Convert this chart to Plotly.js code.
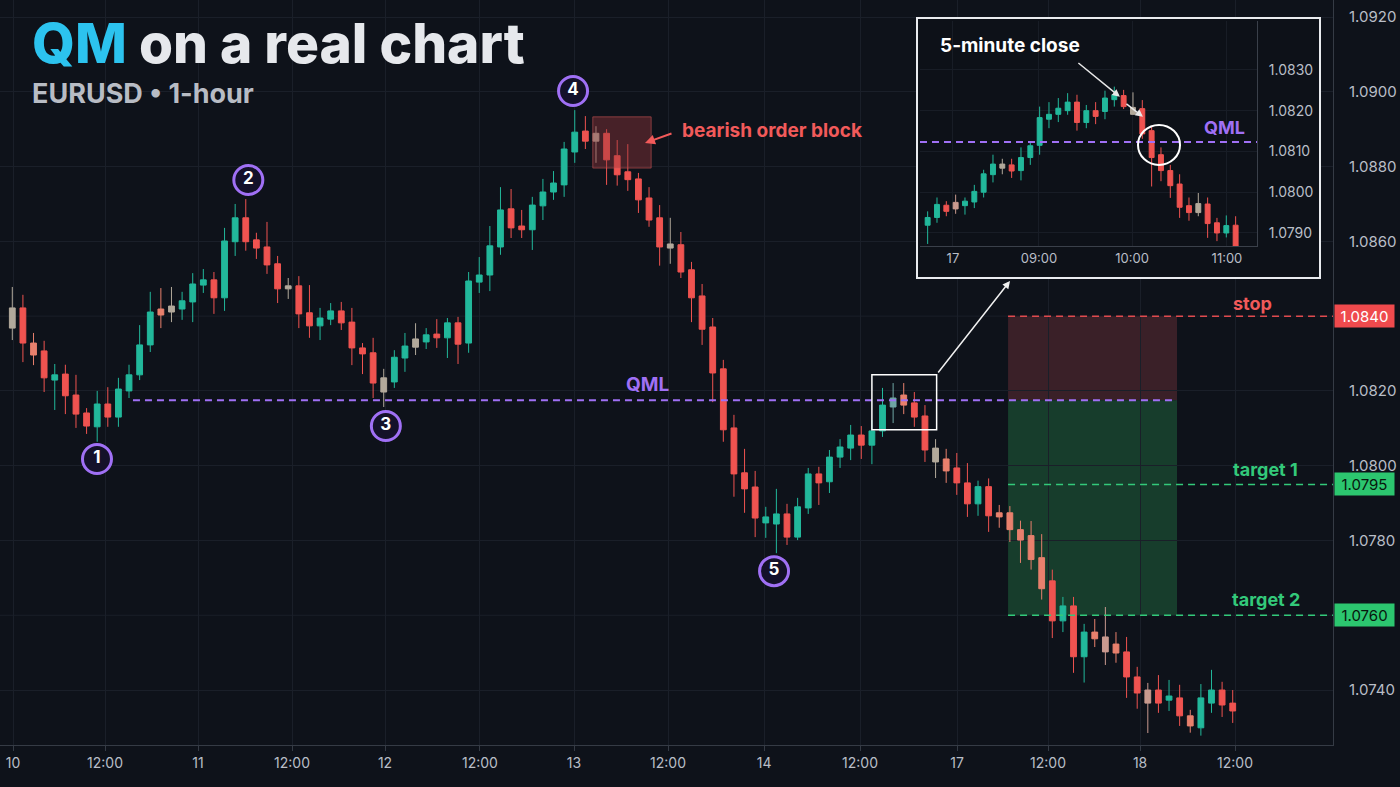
<!DOCTYPE html>
<html><head><meta charset="utf-8">
<script src="https://cdn.plot.ly/plotly-3.0.1.min.js"></script>
<style>
html,body{margin:0;padding:0;background:#0e121a;width:1400px;height:787px;overflow:hidden;}
#main{position:absolute;left:0;top:0;width:1400px;height:787px;}
#inset{position:absolute;left:916px;top:17px;width:401px;height:258px;border:2px solid #e9ebef;background:#0d1118;}
</style></head><body>
<div id="main"></div><div id="inset"></div>
<script>
// ---------------- MAIN CHART DATA (EURUSD 1-hour) ----------------
const mainOpen = [1.08422,1.08422,1.08328,1.08307,1.08229,1.08245,1.08189,1.08141,1.08104,1.08165,
1.08130,1.08200,1.08243,1.08323,1.08419,1.08427,1.08419,1.08438,1.08483,1.08497,
1.08449,1.08599,1.08663,1.08604,1.08585,1.08540,1.08481,1.08481,1.08409,1.08374,
1.08392,1.08414,1.08384,1.08315,1.08302,1.08235,1.08224,1.08288,1.08339,1.08331,
1.08352,1.08342,1.08382,1.08328,1.08491,1.08510,1.08585,1.08687,1.08641,1.08631,
1.08695,1.08732,1.08751,1.08839,1.08895,1.08889,1.08889,1.08829,1.08786,1.08767,
1.08716,1.08663,1.08593,1.08591,1.08524,1.08454,1.08371,1.08259,1.08101,1.07981,
1.07943,1.07847,1.07844,1.07871,1.07809,1.07887,1.07978,1.07957,1.08023,1.08047,
1.08082,1.08055,1.08093,1.08157,1.08189,1.08168,1.08133,1.08047,1.08018,1.07994,
1.07954,1.07898,1.07944,1.07874,1.07874,1.07829,1.07813,1.07754,1.07692,1.07585,
1.07625,1.07489,1.07555,1.07542,1.07523,1.07502,1.07435,1.07400,1.07400,1.07373,
1.07379,1.07331,1.07299,1.07365,1.07400,1.07365];
const mainHigh = [1.08478,1.08457,1.08355,1.08334,1.08272,1.08270,1.08243,1.08154,1.08200,1.08210,
1.08235,1.08270,1.08376,1.08465,1.08475,1.08478,1.08465,1.08515,1.08526,1.08518,
1.08636,1.08700,1.08713,1.08623,1.08652,1.08561,1.08502,1.08507,1.08483,1.08422,
1.08435,1.08438,1.08422,1.08328,1.08342,1.08259,1.08309,1.08355,1.08381,1.08368,
1.08392,1.08395,1.08398,1.08518,1.08558,1.08641,1.08745,1.08740,1.08684,1.08719,
1.08767,1.08788,1.08866,1.08951,1.08935,1.08908,1.08900,1.08871,1.08860,1.08783,
1.08745,1.08697,1.08663,1.08625,1.08545,1.08486,1.08395,1.08283,1.08136,1.08045,
1.07986,1.07890,1.07938,1.07898,1.07914,1.07994,1.07997,1.08042,1.08071,1.08109,
1.08106,1.08122,1.08208,1.08221,1.08221,1.08197,1.08162,1.08071,1.08045,1.08034,
1.08007,1.07960,1.07966,1.07895,1.07892,1.07853,1.07852,1.07817,1.07722,1.07649,
1.07649,1.07577,1.07590,1.07622,1.07555,1.07542,1.07462,1.07419,1.07440,1.07427,
1.07414,1.07347,1.07416,1.07454,1.07422,1.07400];
const mainLow = [1.08336,1.08277,1.08269,1.08197,1.08149,1.08138,1.08101,1.08085,1.08064,1.08104,
1.08104,1.08181,1.08229,1.08304,1.08368,1.08384,1.08390,1.08384,1.08462,1.08406,
1.08414,1.08561,1.08575,1.08553,1.08513,1.08435,1.08446,1.08368,1.08342,1.08336,
1.08376,1.08363,1.08269,1.08245,1.08181,1.08157,1.08208,1.08251,1.08296,1.08312,
1.08315,1.08288,1.08272,1.08302,1.08462,1.08467,1.08564,1.08609,1.08609,1.08577,
1.08657,1.08711,1.08719,1.08810,1.08847,1.08810,1.08751,1.08749,1.08735,1.08676,
1.08639,1.08535,1.08540,1.08502,1.08384,1.08323,1.08170,1.08064,1.07917,1.07874,
1.07809,1.07807,1.07766,1.07788,1.07801,1.07871,1.07895,1.07927,1.07994,1.08015,
1.08018,1.08004,1.08077,1.08114,1.08138,1.08104,1.08010,1.07967,1.07954,1.07922,
1.07863,1.07866,1.07823,1.07834,1.07796,1.07740,1.07722,1.07642,1.07539,1.07555,
1.07446,1.07420,1.07515,1.07467,1.07473,1.07379,1.07350,1.07285,1.07339,1.07344,
1.07304,1.07286,1.07278,1.07339,1.07328,1.07312];
const mainClose = [1.08368,1.08328,1.08296,1.08235,1.08243,1.08187,1.08138,1.08106,1.08165,1.08130,
1.08205,1.08243,1.08323,1.08411,1.08403,1.08411,1.08441,1.08486,1.08497,1.08449,
1.08601,1.08663,1.08599,1.08582,1.08537,1.08473,1.08473,1.08406,1.08374,1.08395,
1.08414,1.08382,1.08315,1.08299,1.08221,1.08197,1.08290,1.08320,1.08317,1.08350,
1.08342,1.08382,1.08325,1.08494,1.08510,1.08588,1.08684,1.08636,1.08631,1.08697,
1.08732,1.08756,1.08847,1.08892,1.08868,1.08868,1.08818,1.08778,1.08765,1.08711,
1.08657,1.08585,1.08582,1.08518,1.08449,1.08365,1.08248,1.08096,1.07978,1.07938,
1.07860,1.07863,1.07871,1.07809,1.07890,1.07978,1.07954,1.08023,1.08050,1.08082,
1.08055,1.08093,1.08162,1.08181,1.08162,1.08130,1.08042,1.08010,1.07986,1.07954,
1.07898,1.07944,1.07866,1.07863,1.07829,1.07801,1.07749,1.07671,1.07585,1.07625,
1.07489,1.07555,1.07537,1.07502,1.07499,1.07435,1.07392,1.07365,1.07365,1.07384,
1.07331,1.07304,1.07379,1.07400,1.07360,1.07344];
// candle tone: n = normal (teal/red by direction), s = salmon, g = grey, p = pinkish grey, m = muted teal
const mainTone = ['g','n','s','n','n','n','n','n','n','n',
'n','n','n','n','s','g','n','n','n','n',
'n','n','n','n','n','n','g','n','n','n',
'n','n','n','n','n','g','n','n','g','n',
'n','n','n','n','n','n','n','n','n','n',
'n','n','n','n','n','g','n','n','n','n',
'n','n','g','n','n','n','n','n','n','n',
'n','n','n','n','n','n','n','n','n','n',
'n','n','n','m','s','n','n','g','s','n',
'n','n','n','s','s','s','s','s','n','n',
'n','n','s','p','s','n','n','p','n','n',
'n','s','n','n','n','n'];

const xTickPos = [0.07,8.74,17.5,26.36,35.12,44.07,52.93,61.79,70.84,79.88,89.02,97.6,106.27,115.22];
const xTickText = ['10','12:00','11','12:00','12','12:00','13','12:00','14','12:00','17','12:00','18','12:00'];
// price labels shown on the axis (1.0760 and 1.0840 are shown by the tags instead)
const yTickVals = [1.074,1.078,1.080,1.082,1.086,1.088,1.090,1.092];
const yGridExtra = [1.076,1.084];

// trade levels
const qmlLevel = 1.08175;
const stopLevel = 1.0840;
const target1 = 1.0795;
const target2 = 1.0760;

// pivot markers (numbered circles)
const pivotX = [7.98,22.24,35.2,52.84,71.78];
const pivotY = [1.08018,1.08764,1.08106,1.09002,1.07718];
const pivotLabel = ['1','2','3','4','5'];

// ---------------- INSET DATA (5-minute) ----------------
const inOpen = [1.07919,1.07938,1.07968,1.07975,1.07967,1.07976,1.08000,1.08043,1.08069,1.08067,
1.08053,1.08085,1.08115,1.08179,1.08191,1.08200,1.08221,1.08171,1.08200,1.08198,
1.08227,1.08237,1.08208,1.08205,1.08151,1.08092,1.08053,1.08020,1.07967,1.07972,
1.07971,1.07925,1.07900,1.07919];
const inHigh = [1.07953,1.07987,1.07978,1.07994,1.07987,1.08018,1.08055,1.08092,1.08082,1.08082,
1.08110,1.08125,1.08210,1.08221,1.08231,1.08243,1.08239,1.08214,1.08221,1.08249,
1.08259,1.08251,1.08245,1.08226,1.08160,1.08110,1.08067,1.08044,1.07987,1.07998,
1.07987,1.07937,1.07943,1.07941];
const inLow = [1.07873,1.07925,1.07941,1.07947,1.07945,1.07961,1.07987,1.08024,1.08044,1.08035,
1.08029,1.08067,1.08092,1.08157,1.08172,1.08190,1.08151,1.08157,1.08167,1.08179,
1.08210,1.08204,1.08190,1.08131,1.08014,1.08027,1.07986,1.07937,1.07930,1.07941,
1.07888,1.07880,1.07889,1.07860];
const inClose = [1.07938,1.07970,1.07953,1.07959,1.07978,1.08002,1.08045,1.08069,1.08059,1.08052,
1.08085,1.08114,1.08183,1.08191,1.08206,1.08221,1.08171,1.08200,1.08186,1.08231,
1.08239,1.08210,1.08191,1.08143,1.08085,1.08053,1.08016,1.07963,1.07950,1.07950,
1.07923,1.07900,1.07918,1.07867];
const inTone = ['n','n','n','p','n','n','n','n','g','n',
'n','n','n','n','n','n','n','n','n','n',
'n','n','g','n','n','n','n','n','n','g',
'n','n','n','n'];
const inTickPos = [2.71,11.93,21.9,32.07];
const inTickText = ['17','09:00','10:00','11:00'];
const inYTicks = [1.079,1.080,1.081,1.082,1.083];
const qmlInset = 1.08123;

// ---------------- STYLE ----------------
const BG = '#0e121a';
const GRID = '#1a1f29';
const AXISLINE = '#353b45';
const TICKC = '#b9bec7';
const FONT = 'Inter, "Noto Sans", sans-serif';
const palette = {up:'#22b89b', down:'#ef5350', s:'#e8806d', g:'#b2a99b', p:'#c99a8f', m:'#6fa6a4'};
const PURPLE = '#a070f5';
const RED = '#f25a5a';
const GREEN = '#33c97a';

function candleTraces(o,h,l,c,tone,xa,ya){
  const groups = {};
  tone.forEach((t,i)=>{ (groups[t] = groups[t] || []).push(i); });
  return Object.keys(groups).map(t=>{
    const ids = groups[t];
    const inc = t==='n' ? palette.up : palette[t];
    const dec = t==='n' ? palette.down : palette[t];
    return {type:'candlestick', xaxis:xa, yaxis:ya,
      x: ids.map(i=>i), open: ids.map(i=>o[i]), high: ids.map(i=>h[i]),
      low: ids.map(i=>l[i]), close: ids.map(i=>c[i]),
      increasing:{line:{color:inc,width:1}, fillcolor:inc},
      decreasing:{line:{color:dec,width:1}, fillcolor:dec},
      whiskerwidth:0, hoverinfo:'skip', showlegend:false};
  });
}

// ---------------- MAIN ----------------
const xMin = -1.159, xMax = 124.45;
const yMin = 1.07253, yMax = 1.092455;
const zoneX0 = 93.83, zoneX1 = 109.75, qmlX0 = 11.37;

const mainTraces = candleTraces(mainOpen,mainHigh,mainLow,mainClose,mainTone,'x','y');
mainTraces.push({type:'scatter', mode:'markers+text', x:pivotX, y:pivotY, text:pivotLabel,
  textposition:'middle center', textfont:{family:FONT,size:17,color:'#ffffff',weight:700},
  marker:{size:29,color:'#14112a',line:{color:PURPLE,width:3}}, hoverinfo:'skip', showlegend:false});

const mainShapes = yGridExtra.map(v=>({type:'line', xref:'x', yref:'y', x0:xMin, x1:xMax, y0:v, y1:v, line:{color:GRID,width:1}, layer:'below'}));
mainShapes.push(
  {type:'rect', xref:'x', yref:'y', x0:zoneX0, x1:zoneX1, y0:qmlLevel, y1:stopLevel, fillcolor:'#3a2028', line:{width:0}, layer:'below'},
  {type:'rect', xref:'x', yref:'y', x0:zoneX0, x1:zoneX1, y0:target2, y1:qmlLevel, fillcolor:'#173d2c', line:{width:0}, layer:'below'},
  {type:'line', xref:'x', yref:'y', x0:qmlX0, x1:zoneX1, y0:qmlLevel, y1:qmlLevel, line:{color:PURPLE,width:2,dash:'7px,5px'}, layer:'above'},
  {type:'line', xref:'x', yref:'y', x0:zoneX0, x1:xMax, y0:stopLevel, y1:stopLevel, line:{color:'#e04a4e',width:1.5,dash:'7px,5px'}, layer:'above'},
  {type:'line', xref:'x', yref:'y', x0:zoneX0, x1:xMax, y0:target1, y1:target1, line:{color:GREEN,width:1.5,dash:'7px,5px'}, layer:'above'},
  {type:'line', xref:'x', yref:'y', x0:zoneX0, x1:xMax, y0:target2, y1:target2, line:{color:GREEN,width:1.5,dash:'7px,5px'}, layer:'above'},
  {type:'rect', xref:'x', yref:'y', x0:54.7, x1:60.2, y0:1.08796, y1:1.08933, fillcolor:'rgba(150,55,60,0.42)', line:{color:'rgba(210,90,90,0.55)',width:1}, layer:'above'},
  {type:'rect', xref:'x', yref:'y', x0:81.0, x1:87.1, y0:1.08096, y1:1.08243, fillcolor:'rgba(0,0,0,0)', line:{color:'#ffffff',width:1.5}, layer:'above'}
);

function priceTag(v, bg, fg){
  return {xref:'paper', yref:'y', x:1364.5/1400, y:v, xanchor:'center', yanchor:'middle', showarrow:false,
    text:v.toFixed(4), bgcolor:bg, font:{family:FONT,size:15,color:fg}, width:55, height:18, borderpad:2};
}

const mainAnn = [
  {xref:'paper', yref:'paper', x:30/1400, y:1-43/787, xanchor:'left', yanchor:'middle', showarrow:false,
   text:'<span style="color:#2cc3ef">QM</span> on a real chart', font:{family:FONT,size:55,color:'#e6e8ec',weight:800}},
  {xref:'paper', yref:'paper', x:30/1400, y:1-94/787, xanchor:'left', yanchor:'middle', showarrow:false,
   text:'EURUSD • 1-hour', font:{family:FONT,size:27,color:'#b8bcc4',weight:700}},
  {xref:'x', yref:'y', x:59.9, y:qmlLevel, yshift:16, xanchor:'center', yanchor:'middle', showarrow:false,
   text:'QML', font:{family:FONT,size:19,color:PURPLE,weight:700}},
  {xref:'x', yref:'y', x:62.92, y:1.08896, xanchor:'left', yanchor:'middle', showarrow:false,
   text:'bearish order block', font:{family:FONT,size:19,color:RED,weight:700}},
  {xref:'x', yref:'y', x:59.62, y:1.08863, ax:28, ay:-10, axref:'pixel', ayref:'pixel', text:'', showarrow:true,
   arrowcolor:RED, arrowwidth:2, arrowhead:2, arrowsize:1, standoff:0},
  {xref:'x', yref:'y', x:116.9, y:stopLevel, yshift:13, xanchor:'center', yanchor:'middle', showarrow:false,
   text:'stop', font:{family:FONT,size:18,color:RED,weight:700}},
  {xref:'x', yref:'y', x:118.05, y:target1, yshift:15, xanchor:'center', yanchor:'middle', showarrow:false,
   text:'target 1', font:{family:FONT,size:18,color:GREEN,weight:700}},
  {xref:'x', yref:'y', x:118.1, y:target2, yshift:16, xanchor:'center', yanchor:'middle', showarrow:false,
   text:'target 2', font:{family:FONT,size:18,color:GREEN,weight:700}},
  priceTag(stopLevel,'#ef4a4d','#ffffff'),
  priceTag(target1,'#2cc66f','#08160d'),
  priceTag(target2,'#2cc66f','#08160d'),
  {xref:'paper', yref:'paper', x:1010/1400, y:1-281/787, ax:-73, ay:93, axref:'pixel', ayref:'pixel', text:'', showarrow:true,
   arrowcolor:'#f0f0f0', arrowwidth:1.5, arrowhead:2, arrowsize:1, standoff:0}
];

const mainLayout = {
  width:1400, height:787, margin:{l:0,r:0,t:0,b:0},
  paper_bgcolor:BG, plot_bgcolor:BG, showlegend:false, hovermode:false, boxgap:0.22,
  xaxis:{domain:[0,1333/1400], range:[xMin,xMax], autorange:false, tickmode:'array', tickvals:xTickPos, ticktext:xTickText,
    showgrid:true, gridcolor:GRID, gridwidth:1, zeroline:false, showline:true, linecolor:AXISLINE, linewidth:1,
    ticks:'outside', ticklen:5, tickcolor:AXISLINE, tickfont:{family:FONT,size:14,color:TICKC}, rangeslider:{visible:false}},
  yaxis:{domain:[1-745/787,1], range:[yMin,yMax], autorange:false, side:'right', tickmode:'array', tickvals:yTickVals,
    tickformat:'.4f', showgrid:true, gridcolor:GRID, gridwidth:1, zeroline:false, showline:true, linecolor:AXISLINE, linewidth:1,
    ticks:'', ticklabelstandoff:12, tickfont:{family:FONT,size:15,color:TICKC}},
  shapes:mainShapes, annotations:mainAnn
};
Plotly.newPlot('main', mainTraces, mainLayout, {staticPlot:true, displayModeBar:false});

// ---------------- INSET ----------------
const inTraces = candleTraces(inOpen,inHigh,inLow,inClose,inTone,'x','y');
const inLayout = {
  width:401, height:258, margin:{l:2,r:62,t:2,b:31},
  paper_bgcolor:'#0d1118', plot_bgcolor:'#0d1118', showlegend:false, hovermode:false, boxgap:0.25,
  xaxis:{range:[-0.82,35.29], autorange:false, tickmode:'array', tickvals:inTickPos, ticktext:inTickText,
    showgrid:true, gridcolor:'#181d26', zeroline:false, showline:true, linecolor:'#3a404a',
    ticks:'', tickfont:{family:FONT,size:13,color:TICKC}, rangeslider:{visible:false}},
  yaxis:{range:[1.07868,1.08420], autorange:false, side:'right', tickmode:'array', tickvals:inYTicks, tickformat:'.4f',
    showgrid:true, gridcolor:'#181d26', zeroline:false, showline:true, linecolor:'#3a404a',
    ticks:'', ticklabelstandoff:8, tickfont:{family:FONT,size:14,color:TICKC}},
  shapes:[
    {type:'line', xref:'paper', yref:'y', x0:0, x1:1, y0:qmlInset, y1:qmlInset, line:{color:PURPLE,width:2,dash:'7px,5px'}, layer:'above'},
    {type:'circle', xref:'x', yref:'y', xsizemode:'pixel', ysizemode:'pixel', xanchor:24.79, yanchor:1.08116,
     x0:-21, x1:21, y0:-20, y1:20, line:{color:'#ffffff',width:2}, fillcolor:'rgba(0,0,0,0)', layer:'above'}
  ],
  annotations:[
    {xref:'paper', yref:'paper', x:(1009.5-920)/337, y:1-(45-21)/225, xanchor:'center', yanchor:'middle', showarrow:false,
     text:'5-minute close', font:{family:FONT,size:19,color:'#ffffff',weight:700}},
    {xref:'x', yref:'y', x:31.86, y:qmlInset, yshift:15, xanchor:'center', yanchor:'middle', showarrow:false,
     text:'QML', font:{family:FONT,size:18,color:PURPLE,weight:700}},
    {xref:'x', yref:'y', x:20.6, y:1.08234, ax:-43, ay:-35, axref:'pixel', ayref:'pixel', text:'', showarrow:true,
     arrowcolor:'#e8e8e8', arrowwidth:1.5, arrowhead:2, arrowsize:1, standoff:0},
    {xref:'x', yref:'y', x:23.07, y:1.08185, ax:-18, ay:-14, axref:'pixel', ayref:'pixel', text:'', showarrow:true,
     arrowcolor:'#e8e8e8', arrowwidth:1.5, arrowhead:2, arrowsize:1, standoff:0}
  ]
};
Plotly.newPlot('inset', inTraces, inLayout, {staticPlot:true, displayModeBar:false});
</script></body></html>
